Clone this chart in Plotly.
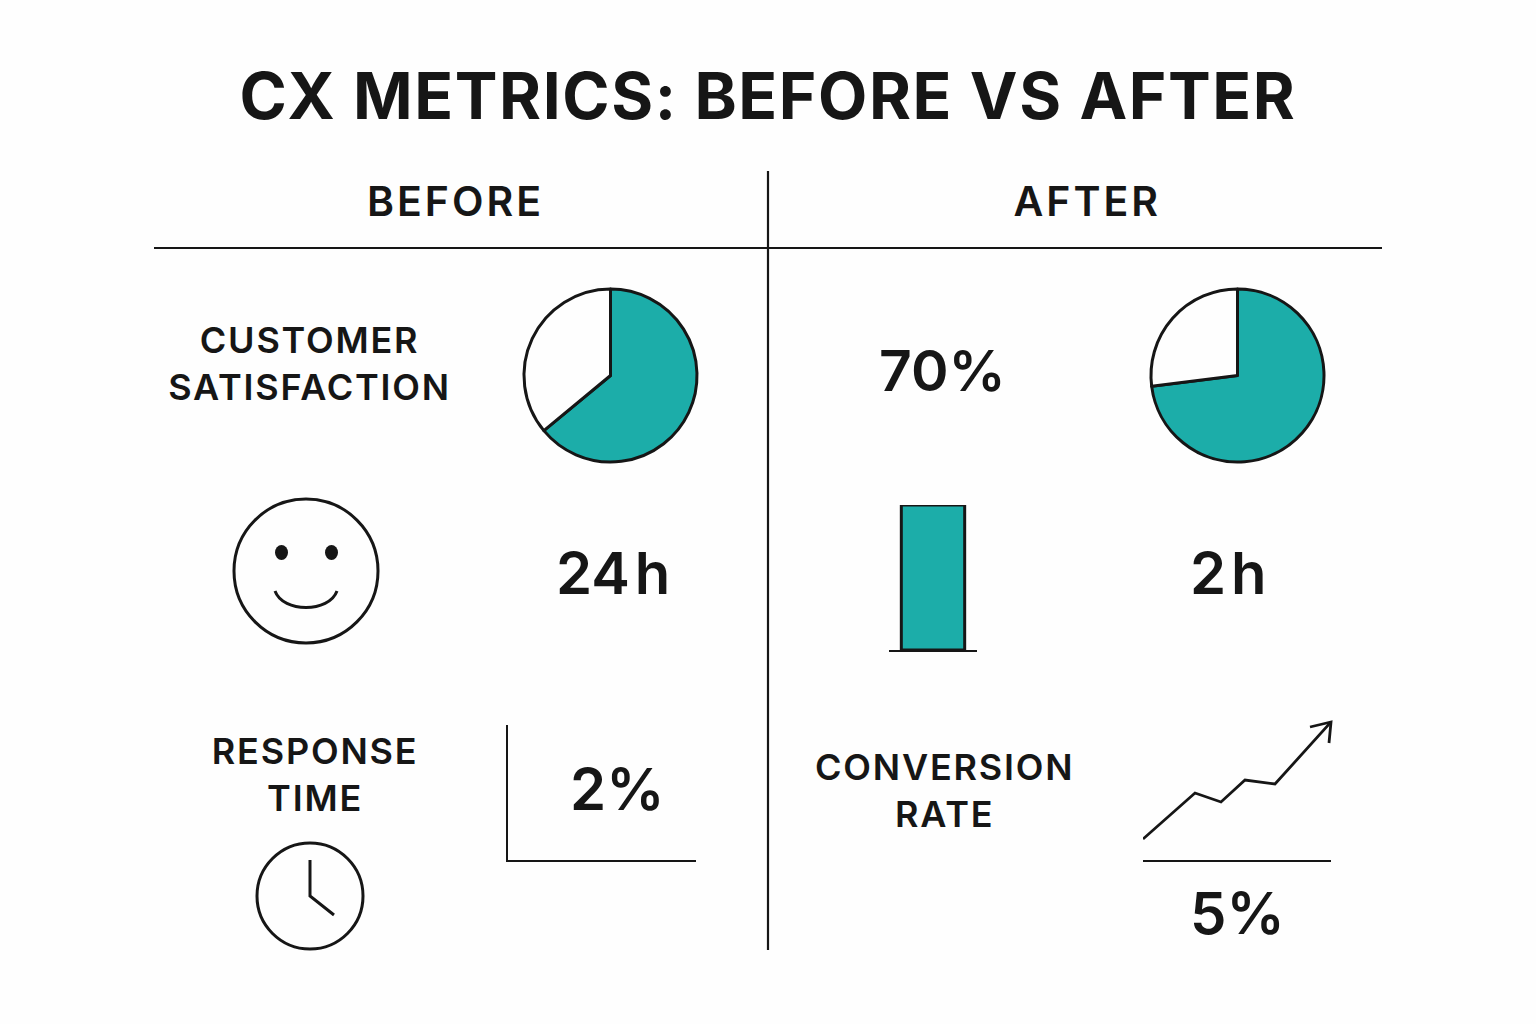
import plotly.graph_objects as go

# chart values
pie_labels = ["Satisfied", "Other"]
pie_before = [64, 36]
pie_after = [73, 27]
bar_labels = ["After"]
bar_values = [2]
trend_x = [0, 52, 78, 102, 132, 188]
trend_y = [21, 67, 58, 80, 76, 138]

title_text = "CX METRICS: BEFORE VS AFTER"
column_heads = ["BEFORE", "AFTER"]
metric_labels = ["CUSTOMER<br>SATISFACTION", "RESPONSE<br>TIME", "CONVERSION<br>RATE"]
value_labels = ["70%", "24\u200ah", "2\u200ah", "2%", "5%"]

W, H = 1536, 1024
INK = "#161616"
TEAL = "#1cada9"
FONT = "Inter"


def xdom(left, right):
    return [left / W, right / W]


def ydom(top, bottom):
    return [1 - bottom / H, 1 - top / H]


fig = go.Figure()

# pies
for vals, left in ((pie_before, 524), (pie_after, 1151)):
    fig.add_trace(go.Pie(labels=pie_labels, values=vals, sort=False, direction="clockwise",
                         rotation=0, textinfo="none", showlegend=False, hoverinfo="skip",
                         marker=dict(colors=[TEAL, "#fefefe"], line=dict(color=INK, width=3)),
                         domain=dict(x=xdom(left, left + 173), y=ydom(289, 462))))

# single bar on its own baseline
fig.add_trace(go.Bar(x=bar_labels, y=bar_values, xaxis="x2", yaxis="y2", showlegend=False,
                     width=0.72, marker=dict(color=TEAL, line=dict(color=INK, width=3))))

# trend line, the arrow head is a shape further down
fig.add_trace(go.Scatter(x=trend_x, y=trend_y, xaxis="x3", yaxis="y3", mode="lines",
                         showlegend=False, cliponaxis=False, line=dict(color=INK, width=2.8)))

# empty axes behind the 2%
fig.add_trace(go.Scatter(x=[], y=[], xaxis="x4", yaxis="y4", showlegend=False))

hidden = dict(visible=False, showgrid=False, zeroline=False)
small = dict(showgrid=False, zeroline=False, showticklabels=False, ticks="",
             linecolor=INK, linewidth=2.2)

fig.update_layout(
    width=W, height=H, margin=dict(l=0, r=0, t=0, b=0),
    paper_bgcolor="#fefefe", plot_bgcolor="rgba(0,0,0,0)", showlegend=False,
    xaxis=dict(range=[0, W], domain=[0, 1], **hidden),
    yaxis=dict(range=[H, 0], domain=[0, 1], **hidden),
    xaxis2=dict(domain=xdom(889, 977), range=[-0.5, 0.5], anchor="y2", showline=True, **small),
    yaxis2=dict(domain=ydom(505, 650), range=[0, 2], anchor="x2", showline=False, **small),
    xaxis3=dict(domain=xdom(1143, 1331), range=[0, 188], anchor="y3", showline=True, **small),
    yaxis3=dict(domain=ydom(722, 860), range=[0, 138], anchor="x3", showline=False, **small),
    xaxis4=dict(domain=xdom(508, 696), range=[0, 1], anchor="y4", showline=True, **small),
    yaxis4=dict(domain=ydom(725, 860), range=[0, 1], anchor="x4", showline=True, **small),
)


def add_text(text, x, y, size, weight=600):
    fig.add_annotation(text=text, x=x, y=y, xref="x", yref="y", showarrow=False,
                       xanchor="center", yanchor="middle",
                       font=dict(family=FONT, size=size, color=INK, weight=weight))


add_text(title_text, 768, 95, 64, 700)
add_text(column_heads[0], 455, 201, 41)
add_text(column_heads[1], 1087, 201, 41)
add_text(metric_labels[0], 309, 363, 36)
add_text(metric_labels[1], 315, 774, 36)
add_text(metric_labels[2], 944, 790, 36)
add_text(value_labels[0], 942, 370, 57)
add_text(value_labels[1], 613, 573, 58)
add_text(value_labels[2], 1228, 573, 58)
add_text(value_labels[3], 617, 789, 58)
add_text(value_labels[4], 1237, 913, 58)

rule = dict(color=INK, width=2.2)
fig.add_shape(type="line", x0=768, x1=768, y0=171, y1=950, line=rule)
fig.add_shape(type="line", x0=154, x1=1382, y0=248, y1=248, line=rule)

# arrow head of the trend line
fig.add_shape(type="path", path="M 1310 727 L 1331 722 L 1329 743", line=dict(color=INK, width=2.8))

# smiley
fig.add_shape(type="circle", x0=234, x1=378, y0=499, y1=643, line=dict(color=INK, width=3))
fig.add_shape(type="circle", x0=275, x1=288, y0=545, y1=560, fillcolor=INK, line=dict(width=0))
fig.add_shape(type="circle", x0=325, x1=338, y0=545, y1=560, fillcolor=INK, line=dict(width=0))
fig.add_shape(type="path", path="M 275 591 C 283 613 329 613 337 591", line=dict(color=INK, width=3))

# clock
fig.add_shape(type="circle", x0=257, x1=363, y0=843, y1=949, line=dict(color=INK, width=3))
fig.add_shape(type="path", path="M 310 860 L 310 896 L 334 915", line=dict(color=INK, width=3))

# plotly has no letter spacing option, and the page body keeps its 8px margin
spacing_js = """
document.body.style.margin = '0';
var spacing = {64: 1.6, 41: 3, 36: 1.8};
document.querySelectorAll('.annotation-text').forEach(function (t) {
    var s = spacing[parseFloat(t.style.fontSize)];
    if (s) { t.style.letterSpacing = s + 'px'; }
});
"""

fig.write_html("out.html", post_script=spacing_js, config=dict(displayModeBar=False))
